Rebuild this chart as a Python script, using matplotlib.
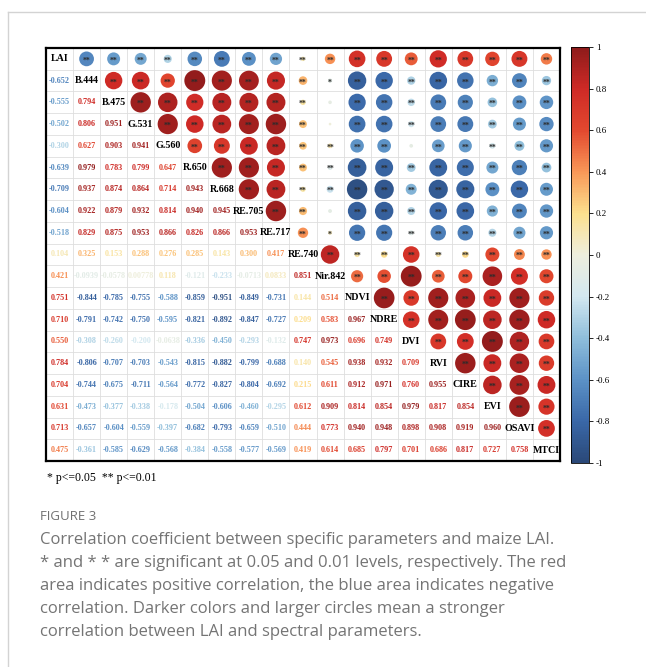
import numpy as np
import matplotlib
matplotlib.use("Agg")
import matplotlib.pyplot as plt
from matplotlib.patches import Ellipse
from matplotlib.colors import LinearSegmentedColormap, Normalize
from matplotlib.colorbar import ColorbarBase

# variables on the diagonal
labels = ["LAI", "B.444", "B.475", "G.531", "G.560", "R.650", "R.668", "RE.705",
          "RE.717", "RE.740", "Nir.842", "NDVI", "NDRE", "DVI", "RVI", "CIRE",
          "EVI", "OSAVI", "MTCI"]

# lower triangle, row by row (row i has i values)
lower = [
    [],
    [-0.652],
    [-0.555, 0.794],
    [-0.502, 0.806, 0.951],
    [-0.300, 0.627, 0.903, 0.941],
    [-0.639, 0.979, 0.783, 0.799, 0.647],
    [-0.709, 0.937, 0.874, 0.864, 0.714, 0.943],
    [-0.604, 0.922, 0.879, 0.932, 0.814, 0.940, 0.945],
    [-0.518, 0.829, 0.875, 0.953, 0.866, 0.826, 0.866, 0.953],
    [0.104, 0.325, 0.153, 0.288, 0.276, 0.285, 0.143, 0.300, 0.417],
    [0.421, -0.0939, -0.0578, 0.00778, 0.118, -0.121, -0.233, -0.0713, 0.0833, 0.851],
    [0.751, -0.844, -0.785, -0.755, -0.588, -0.859, -0.951, -0.849, -0.731, 0.144, 0.514],
    [0.710, -0.791, -0.742, -0.750, -0.595, -0.821, -0.892, -0.847, -0.727, 0.209, 0.583, 0.967],
    [0.550, -0.308, -0.260, -0.200, -0.0638, -0.336, -0.450, -0.293, -0.132, 0.747, 0.973,
     0.696, 0.749],
    [0.784, -0.806, -0.707, -0.703, -0.543, -0.815, -0.882, -0.799, -0.688, 0.140, 0.545,
     0.938, 0.932, 0.709],
    [0.704, -0.744, -0.675, -0.711, -0.564, -0.772, -0.827, -0.804, -0.692, 0.215, 0.611,
     0.912, 0.971, 0.760, 0.955],
    [0.631, -0.473, -0.377, -0.338, -0.178, -0.504, -0.606, -0.460, -0.295, 0.612, 0.909,
     0.814, 0.854, 0.979, 0.817, 0.854],
    [0.713, -0.657, -0.604, -0.559, -0.397, -0.682, -0.793, -0.659, -0.510, 0.444, 0.773,
     0.940, 0.948, 0.898, 0.908, 0.919, 0.960],
    [0.475, -0.361, -0.585, -0.629, -0.568, -0.384, -0.558, -0.577, -0.569, 0.419, 0.614,
     0.685, 0.797, 0.701, 0.686, 0.817, 0.727, 0.758],
]

# significance marks that differ from "**" (row var, column var, mark)
sig_exceptions = [
    ("B.444", "Nir.842", "*"),
    ("B.475", "Nir.842", ""),
    ("G.531", "Nir.842", ""),
    ("RE.705", "Nir.842", ""),
    ("RE.717", "Nir.842", "*"),
    ("G.560", "DVI", ""),
]

caption_title = "FIGURE 3"
caption_lines = [
    "Correlation coefficient between specific parameters and maize LAI.",
    "* and * * are significant at 0.05 and 0.01 levels, respectively. The red",
    "area indicates positive correlation, the blue area indicates negative",
    "correlation. Darker colors and larger circles mean a stronger",
    "correlation between LAI and spectral parameters.",
]

n = len(labels)
R = np.eye(n)
for i, row in enumerate(lower):
    for j, v in enumerate(row):
        R[i, j] = v
        R[j, i] = v

marks = {}
for a, b, m in sig_exceptions:
    i, j = labels.index(a), labels.index(b)
    marks[(min(i, j), max(i, j))] = m

cmap = LinearSegmentedColormap.from_list("corr", [
    (0.0, "#2A4878"), (0.1, "#3A68A8"), (0.2, "#5C92C6"), (0.3, "#8FBEDB"),
    (0.4, "#D3E8F0"), (0.5, "#EEEEDD"), (0.6, "#FCE08E"), (0.7, "#F99858"),
    (0.8, "#E3492F"), (0.9, "#CF2A26"), (1.0, "#8E1B1B")])
norm = Normalize(-1, 1)

W, H = 646, 667
fig = plt.figure(figsize=(W / 100, H / 100), dpi=100)


def fx(x):
    return x / W


def fy(y):
    return 1 - y / H


def fmt(v):
    if abs(v) >= 0.1:
        return "%.3f" % v
    return "%.3g" % v


# card frame
fig.add_artist(plt.Line2D([fx(8), 1], [fy(12), fy(12)], color="#D3D3D3", lw=1))
fig.add_artist(plt.Line2D([fx(8), fx(8)], [fy(12), 0], color="#D3D3D3", lw=1))

L, T, Rr, B = 46, 48, 560, 461
ax = fig.add_axes([fx(L), fy(B), (Rr - L) / W, (B - T) / H])
ax.set_xlim(0, n)
ax.set_ylim(n, 0)
ax.set_xticks([])
ax.set_yticks([])
for s in ax.spines.values():
    s.set_linewidth(1.6)
    s.set_color("black")
for k in range(1, n):
    ax.axvline(k, color="#DEDEDE", lw=0.6, zorder=0)
    ax.axhline(k, color="#DEDEDE", lw=0.6, zorder=0)

cw = (Rr - L) / n
ch = (B - T) / n
serif = "Liberation Serif"

for i in range(n):
    for j in range(n):
        v = R[i, j]
        if i == j:
            ax.text(j + 0.5, i + 0.5, labels[i], ha="center", va="center",
                    fontsize=7.2, fontweight="bold", family=serif, color="black")
        elif i > j:
            ax.text(j + 0.5, i + 0.5, fmt(v), ha="center", va="center",
                    fontsize=5.9, fontweight="bold", family=serif, color=cmap(norm(v)))
        else:
            d = 2.5 + 18.8 * abs(v)
            ax.add_patch(Ellipse((j + 0.5, i + 0.5), d / cw, d / ch,
                                 facecolor=cmap(norm(v)), edgecolor="none"))
            m = marks.get((i, j), "**")
            if m:
                ax.text(j + 0.5, i + 0.58, m, ha="center", va="center",
                        fontsize=5.6, fontweight="bold", color="#2B2B2B", family=serif)

# colorbar
cax = fig.add_axes([fx(571), fy(463), 18 / W, 416 / H])
cb = ColorbarBase(cax, cmap=cmap, norm=norm, ticks=np.linspace(-1, 1, 11))
cb.set_ticklabels(["-1", "-0.8", "-0.6", "-0.4", "-0.2", "0", "0.2", "0.4", "0.6", "0.8", "1"])
cb.outline.set_linewidth(0.6)
cax.tick_params(length=3, width=0.6, labelsize=6.5, pad=2)
for t in cax.get_yticklabels():
    t.set_family(serif)

fig.text(fx(47), fy(478), "* p<=0.05  ** p<=0.01", fontsize=8.5, family=serif,
         va="center", color="black")

fig.text(fx(40), fy(517), caption_title, fontsize=9.5, family="Open Sans",
         color="#707070", va="center")
for k, line in enumerate(caption_lines):
    fig.text(fx(40), fy(540 + 23 * k), line, fontsize=12.0, family="Open Sans",
             color="#747474", va="center")

fig.savefig("out.png", dpi=100)
